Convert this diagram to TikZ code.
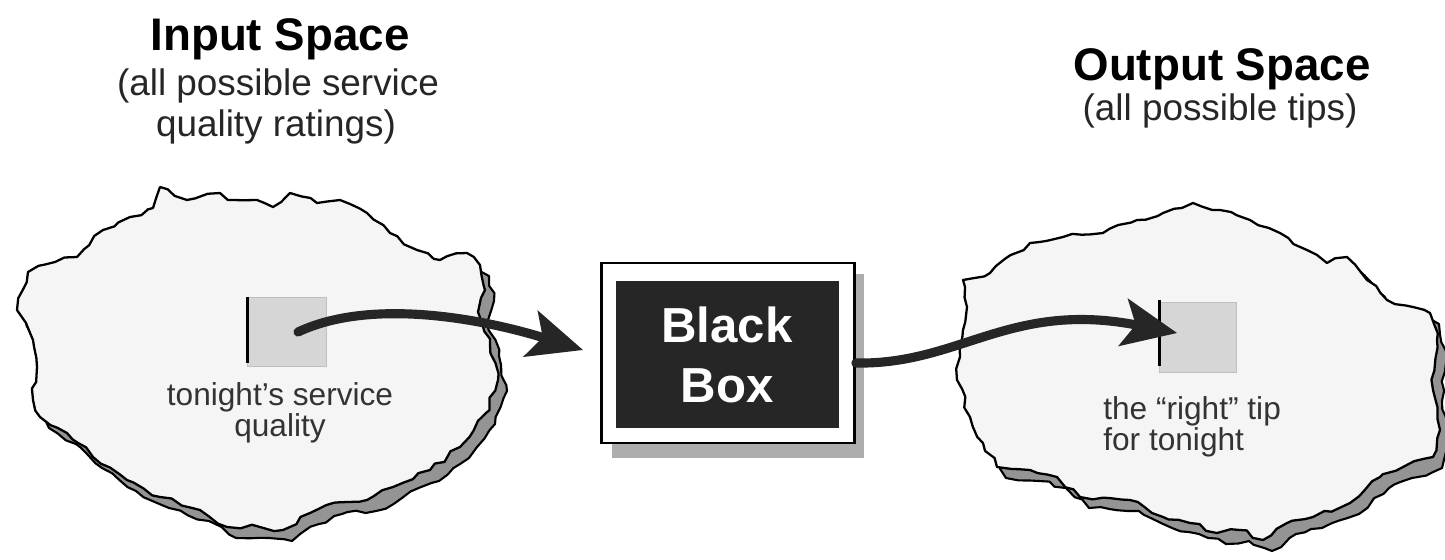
\documentclass[tikz,border=0pt]{standalone}
\usepackage{fontspec}
\setmainfont{Liberation Sans}
\usetikzlibrary{arrows.meta,calc,decorations.pathmorphing}
\begin{document}
\pgfmathsetseed{7}
\begin{tikzpicture}[x=0.02cm,y=-0.02cm,
  jag/.style={decorate, decoration={random steps, segment length=5.5pt, amplitude=1.4pt}},
  cloudshadow/.style={jag, fill=black!42, draw=black, line width=1.2pt, line join=round},
  cloudbody/.style={jag, fill=black!4, draw=black, line width=1.3pt, line join=round},
  title/.style={font=\bfseries\fontsize{26pt}{30pt}\selectfont, anchor=base, inner sep=0pt},
  subtitle/.style={font=\fontsize{21pt}{24pt}\selectfont, text=black!85, anchor=base, inner sep=0pt},
  label/.style={font=\fontsize{18pt}{15.5pt}\selectfont, text=black!80, inner sep=0pt},
  smallrect/.style={draw=black!25, fill=black!16, minimum width=1.58cm, minimum height=1.38cm, inner sep=0pt},
  marker/.style={line width=1.8pt, black},
  outerbox/.style={draw=black, line width=1.6pt, fill=white, minimum width=5.06cm, minimum height=3.6cm, inner sep=0pt},
  boxtext/.style={font=\bfseries\fontsize{28pt}{30pt}\selectfont, text=white, anchor=base, inner sep=0pt},
  flow/.style={line width=5.2pt, black!85, line cap=round, -{Stealth[length=31pt,width=27pt,inset=7pt]}}
]
\useasboundingbox (0,0) rectangle (1445,559);

% ---------- titles ----------
\node[title] (tin) at (280,50) {Input Space};
\node[subtitle] (sin1) at (278,95) {(all possible service};
\node[subtitle] (sin2) at (276,136) {quality ratings)};
\node[title] (tout) at (1222,80) {Output Space};
\node[subtitle] (sout) at (1220,120) {(all possible tips)};

% ---------- left cloud ----------
\def\cloudA{(17,310) -- (28,272) -- (55,262) -- (77,257) -- (103,230) -- (130,217) -- (153,208) -- (160,187) -- (187,200) -- (220,193) -- (233,200) -- (257,200) -- (273,207) -- (290,193) -- (317,203) -- (340,200) -- (367,213) -- (390,233) -- (417,250) -- (440,260) -- (467,253) -- (480,265) -- (485,290) -- (478,312) -- (490,345) -- (498,380) -- (486,413) -- (460,447) -- (430,470) -- (393,487) -- (367,500) -- (333,503) -- (310,513) -- (283,530) -- (260,527) -- (227,527) -- (200,510) -- (160,497) -- (127,480) -- (93,457) -- (67,433) -- (40,417) -- (33,400) -- (37,367) -- (33,340) -- cycle}
\begin{scope}[shift={(9,11)}]
  \path[cloudshadow] \cloudA;
\end{scope}
\path[cloudbody] \cloudA;

% ---------- right cloud ----------
\def\cloudB{(967,307) -- (963,280) -- (990,273) -- (1030,243) -- (1063,237) -- (1103,233) -- (1137,220) -- (1163,213) -- (1193,203) -- (1220,210) -- (1250,220) -- (1280,233) -- (1307,250) -- (1327,263) -- (1347,257) -- (1367,280) -- (1387,300) -- (1413,307) -- (1430,313) -- (1437,340) -- (1433,390) -- (1440,430) -- (1433,457) -- (1403,467) -- (1380,477) -- (1350,503) -- (1313,517) -- (1287,523) -- (1263,540) -- (1240,530) -- (1217,533) -- (1190,523) -- (1163,517) -- (1130,500) -- (1080,497) -- (1057,477) -- (1030,470) -- (997,467) -- (983,443) -- (970,417) -- (957,380) -- (960,357) -- (963,330) -- cycle}
\begin{scope}[shift={(9,11)}]
  \path[cloudshadow] \cloudB;
\end{scope}
\path[cloudbody] \cloudB;

% ---------- small squares ----------
\node[smallrect] (r1) at (287,332) {};
\draw[marker] ($(r1.north west)+(0,0)$) -- ($(r1.south west)+(0,-4)$);
\node[label, align=center, anchor=north] (l1) at (280,382) {tonight's service\\quality};

\node[smallrect, minimum width=1.54cm, minimum height=1.4cm] (r2) at (1198,337) {};
\draw[marker] ($(r2.north west)+(0,-2)$) -- ($(r2.south west)+(0,-6)$);
\node[label, align=left, anchor=north west] (l2) at (1103,396) {the ``right'' tip\\for tonight};

% ---------- black box ----------
\fill[black!32] (612,274) rectangle (864,458);
\node[outerbox] (bb) at (728,353) {};
\fill[black!85] ($(bb.north west)+(16,19)$) rectangle ($(bb.south east)+(-17,-16)$);
\node[boxtext] (bt1) at (727,342) {Black};
\node[boxtext] (bt2) at (727,402) {Box};

% ---------- arrows ----------
\draw[flow] ($(r1.center)+(11,0)$) .. controls (370,298) and (480,318) .. ($(bb.west)+(-17,-3)$);
\draw[flow] ($(bb.east)+(0,10)$) .. controls (960,365) and (1010,300) .. ($(r2.west)+(18,-4)$);
\end{tikzpicture}
\end{document}
